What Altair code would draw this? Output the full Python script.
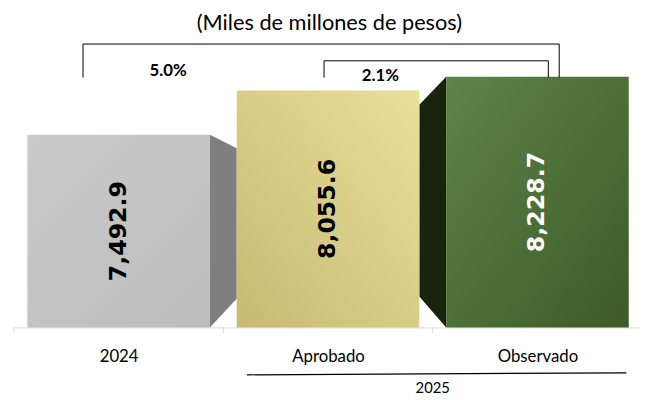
import altair as alt
import pandas as pd

# ---- data ----
categories = ["2024", "Aprobado", "Observado"]
values = [7492.9, 8055.6, 8228.7]
value_labels = ["7,492.9", "8,055.6", "8,228.7"]
label_colors = ["black", "black", "white"]
growth_labels = ["5.0%", "2.1%"]
group_label = "2025"
title_text = "(Miles de millones de pesos)"

# ---- layout / style constants ----
BASE = 5055.0          # value at the baseline (axis does not start at zero)
TOP = 8667.5
HALF = 0.436           # half bar width in category units
VP_X, VP_Y = 1.52, 6717.5   # perspective vanishing point for side faces
W, H = 633, 289

bars = pd.DataFrame({
    "cat": categories,
    "idx": list(range(len(categories))),
    "value": values,
    "label": value_labels,
    "lc": label_colors,
})
bars["xc"] = bars["idx"] + 0.5
bars["x1"] = bars["xc"] - HALF
bars["x2"] = bars["xc"] + HALF
bars["base"] = BASE
bars["mid"] = (bars["value"] + BASE) / 2

# side faces (perspective) derived from the bar values
rows = []
for i, v in enumerate(values):
    c = i + 0.5
    if c < VP_X - 0.6:
        xc, xe = c + HALF, c + 1 - HALF
    elif c > VP_X + 0.6:
        xc, xe = c - HALF, c - 1 + HALF
    else:
        continue
    r = (xe - xc) / (VP_X - xc)
    rows.append(dict(face=categories[i], x=xc, top=v, bot=BASE))
    rows.append(dict(face=categories[i], x=xe, top=v + (VP_Y - v) * r,
                     bot=BASE + (VP_Y - BASE) * r))
sides = pd.DataFrame(rows)

# brackets (annotation)
brackets = pd.DataFrame({
    "b": ["outer"] * 4 + ["inner"] * 4,
    "o": [0, 1, 2, 3] * 2,
    "x": [0.330, 0.330, 2.604, 2.604, 1.481, 1.481, 2.552, 2.552],
    "y": [8217.5, 8642.5, 8642.5, 8217.5, 8217.5, 8430.0, 8430.0, 8217.5],
})
growth = pd.DataFrame({"t": growth_labels, "x": [0.736, 1.75], "y": [8305.0, 8242.5]})
ticks = pd.DataFrame({"x": [0, 1, 2]})
underline = pd.DataFrame({"x": [1.113], "x2": [2.925]})
group = pd.DataFrame({"t": [group_label], "x": [2.0]})

xs = alt.Scale(domain=[0, 2.985], nice=False, zero=False)
ys = alt.Scale(domain=[BASE, TOP], nice=False, zero=False)
label_expr = " : ".join(
    [f"datum.value < {i + 1} ? '{c}'" for i, c in enumerate(categories[:-1])]
) + f" : '{categories[-1]}'"
xax = alt.Axis(values=[0.5, 1.5, 2.5], labelExpr=label_expr, ticks=False, grid=False,
               domainColor="#d9d9d9", domainWidth=1, labelFont="Lato", labelFontSize=17,
               labelColor="black", labelPadding=22, title=None)

side_layer = alt.Chart(sides).mark_area(interpolate="linear").encode(
    x=alt.X("x:Q", scale=xs, axis=xax),
    y=alt.Y("top:Q", scale=ys, axis=None),
    y2="bot:Q",
    color=alt.Color("face:N", scale=alt.Scale(domain=["2024", "Observado"],
                                              range=["#7f7f7f", "#19240f"]), legend=None),
)

grads = [
    alt.Gradient(gradient="linear", x1=0, y1=0, x2=1, y2=1,
                 stops=[alt.GradientStop(color="#cacaca", offset=0),
                        alt.GradientStop(color="#bcbcbc", offset=1)]),
    alt.Gradient(gradient="linear", x1=1, y1=0, x2=0, y2=1,
                 stops=[alt.GradientStop(color="#e9e09c", offset=0),
                        alt.GradientStop(color="#c6ba72", offset=1)]),
    alt.Gradient(gradient="linear", x1=0, y1=0, x2=1, y2=1,
                 stops=[alt.GradientStop(color="#5d8449", offset=0),
                        alt.GradientStop(color="#3c5b27", offset=1)]),
]
front_layers = []
for c, g in zip(categories, grads):
    front_layers.append(
        alt.Chart(bars).transform_filter(alt.datum.cat == c).mark_rect(color=g).encode(
            x=alt.X("x1:Q", scale=xs, axis=xax),
            x2="x2:Q",
            y=alt.Y("value:Q", scale=ys, axis=None),
            y2="base:Q",
        )
    )

value_text = alt.Chart(bars).mark_text(angle=270, font="DejaVu Sans", fontWeight="bold",
                                       fontSize=24).encode(
    x=alt.X("xc:Q", scale=xs, axis=xax),
    y=alt.Y("mid:Q", scale=ys, axis=None),
    text="label:N",
    color=alt.Color("lc:N", scale=None),
)

bracket_layer = alt.Chart(brackets).mark_line(color="black", strokeWidth=1,
                                              strokeJoin="round").encode(
    x=alt.X("x:Q", scale=xs, axis=xax),
    y=alt.Y("y:Q", scale=ys, axis=None),
    detail="b:N",
    order="o:O",
)

growth_text = alt.Chart(growth).mark_text(font="Lato", fontWeight="bold", fontSize=17,
                                          color="black").encode(
    x=alt.X("x:Q", scale=xs, axis=xax),
    y=alt.Y("y:Q", scale=ys, axis=None),
    text="t:N",
)

tick_layer = alt.Chart(ticks).mark_rule(color="#d9d9d9", strokeWidth=1).encode(
    x=alt.X("x:Q", scale=xs, axis=xax),
    y=alt.value(H),
    y2=alt.value(H + 6),
)

underline_layer = alt.Chart(underline).mark_rule(color="black", strokeWidth=1.2).encode(
    x=alt.X("x:Q", scale=xs, axis=xax),
    x2="x2:Q",
    y=alt.value(H + 48),
    y2=alt.value(H + 46),
)

group_text = alt.Chart(group).mark_text(font="Lato", fontSize=15, color="black",
                                        baseline="middle").encode(
    x=alt.X("x:Q", scale=xs, axis=xax),
    y=alt.value(H + 61),
    text="t:N",
)

chart = alt.layer(
    side_layer, *front_layers, value_text, bracket_layer, growth_text,
    tick_layer, underline_layer, group_text,
).properties(
    width=W, height=H,
    title=alt.TitleParams(title_text, font="Lato", fontSize=22, fontWeight="normal",
                          color="black", anchor="middle", offset=7, dx=3),
    padding={"left": 6, "top": 32, "right": 0, "bottom": 69},
    autosize="none",
    background="white",
).configure_view(stroke=None)

chart.save("out.html", embed_options={"renderer": "svg", "actions": False})
